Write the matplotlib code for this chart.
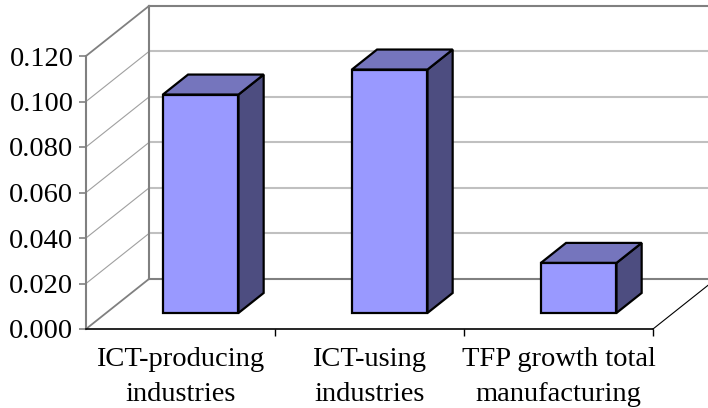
import matplotlib
matplotlib.use("Agg")
import matplotlib.pyplot as plt
from matplotlib.patches import Polygon

# data
categories = ["ICT-producing\nindustries", "ICT-using\nindustries", "TFP growth total\nmanufacturing"]
values = [0.096, 0.107, 0.022]
yticks = [0.0, 0.02, 0.04, 0.06, 0.08, 0.10, 0.12]

plt.rcParams['font.family'] = ['Liberation Serif', 'DejaVu Serif']

# oblique depth vector (in data units: categories / value)
DX = 1 / 3
DY = 0.022
BAR_W = 0.40
D0, D1 = 0.32, 0.72  # bar depth range as fraction of total depth

front_col = '#9999FF'
top_col = '#7575BD'
side_col = '#4D4D80'


def proj(x, v, d):
    return (x + d * DX, v + d * DY)


fig = plt.figure(figsize=(7.08, 4.08), dpi=100)
ax = fig.add_axes([86 / 708, 79 / 408, 567 / 708, 273 / 408])
ax.set_xlim(0, 3)
ax.set_ylim(0, 0.12)

# back wall grid
for v in yticks:
    edge = v in (0.0, 0.12)
    p0, p1 = proj(0, v, 1), proj(3 + DX, v, 1)
    ax.plot([p0[0], p1[0]], [p0[1], p1[1]], color='#808080' if edge else '#C0C0C0',
            lw=1.5, clip_on=False, zorder=1)
    # side wall diagonals
    q0, q1 = proj(0, v, 0), proj(0, v, 1)
    ax.plot([q0[0], q1[0]], [q0[1], q1[1]], color='#808080' if edge else '#A0A0A0',
            lw=1.3 if edge else 0.8, clip_on=False, zorder=1)

# back wall left edge
b0, b1 = proj(0, 0, 1), proj(0, 0.12, 1)
ax.plot([b0[0], b1[0]], [b0[1], b1[1]], color='#808080', lw=1.5, clip_on=False, zorder=1)

# floor right edge
f0, f1 = proj(3, 0, 0), proj(3, 0, 1)
ax.plot([f0[0], f1[0]], [f0[1], f1[1]], color='black', lw=0.8, clip_on=False, zorder=1)

# bars
for i, v in enumerate(values):
    x0 = i + 0.5 - BAR_W / 2
    x1 = i + 0.5 + BAR_W / 2
    front = [proj(x0, 0, D0), proj(x1, 0, D0), proj(x1, v, D0), proj(x0, v, D0)]
    top = [proj(x0, v, D0), proj(x1, v, D0), proj(x1, v, D1), proj(x0, v, D1)]
    side = [proj(x1, 0, D0), proj(x1, 0, D1), proj(x1, v, D1), proj(x1, v, D0)]
    for pts, c in ((side, side_col), (top, top_col), (front, front_col)):
        ax.add_patch(Polygon(pts, closed=True, facecolor=c, edgecolor='black',
                             lw=1.6, joinstyle='miter', clip_on=False, zorder=3))

# axes styling
for s in ('top', 'right'):
    ax.spines[s].set_visible(False)
ax.spines['left'].set_color('#808080')
ax.spines['left'].set_linewidth(1.5)
ax.spines['bottom'].set_color('black')
ax.spines['bottom'].set_linewidth(1.2)

ax.set_yticks(yticks)
ax.set_yticklabels(['%.3f' % t for t in yticks])
ax.tick_params(axis='y', length=5, width=1.2, color='#808080', pad=4, labelsize=20.5)

ax.set_xticks([1, 2, 3])
ax.set_xticklabels([])
ax.tick_params(axis='x', which='major', length=5, width=1, color='black')
ax.set_xticks([0.5, 1.5, 2.5], minor=True)
ax.set_xticklabels(categories, minor=True, fontsize=20.5)
for lbl in ax.get_xticklabels(minor=True):
    lbl.set_linespacing(1.5)
ax.tick_params(axis='x', which='minor', length=0, pad=13)

fig.savefig('out.png', dpi=100, facecolor='white')
